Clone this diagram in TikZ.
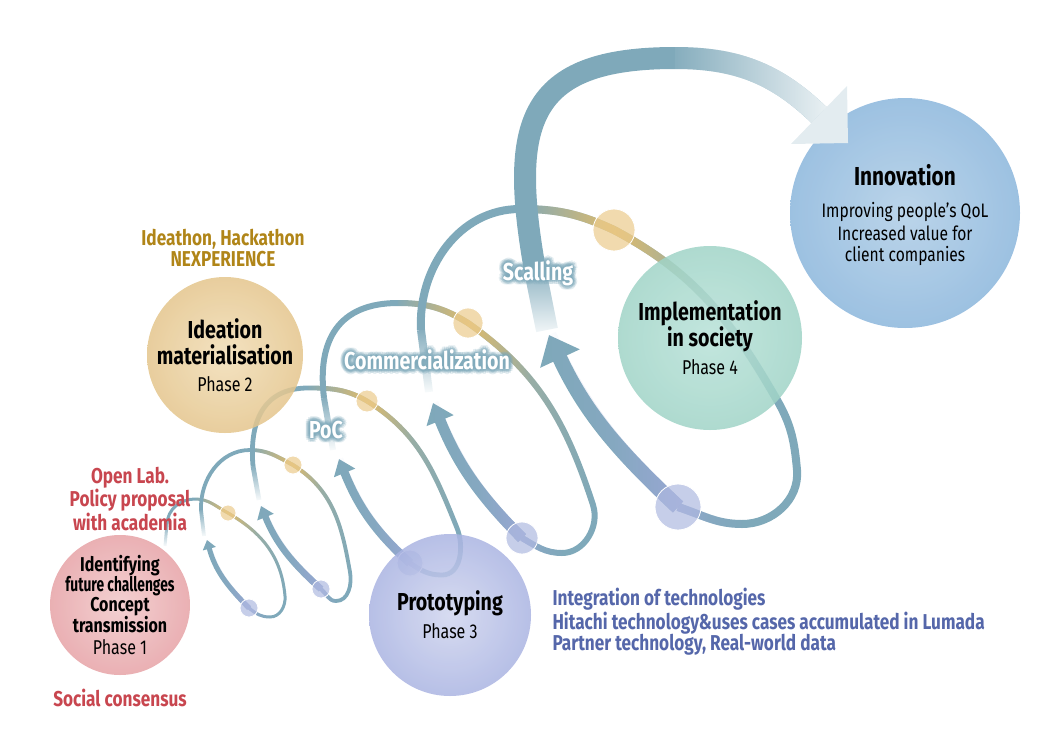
\documentclass[tikz,border=0pt]{standalone}
\usepackage{fontspec}
\usepackage{graphicx}
\setmainfont{Fira Sans}[FakeStretch=0.8]
\usetikzlibrary{arrows.meta,fadings}

\definecolor{coil}{HTML}{7FA9BA}
\definecolor{amberline}{HTML}{E3BC68}
\definecolor{amberdot}{HTML}{EBCB8C}
\definecolor{lilacline}{HTML}{9AA7D5}
\definecolor{lilacdot}{HTML}{AEB9E0}
\definecolor{labelred}{HTML}{C8464F}
\definecolor{labelgold}{HTML}{B08518}
\definecolor{labelblue}{HTML}{5567AA}
\definecolor{pinkin}{HTML}{F1C8C9}
\definecolor{pinkout}{HTML}{E6A2A6}
\definecolor{goldin}{HTML}{F1DDB6}
\definecolor{goldout}{HTML}{E4C58C}
\definecolor{lavin}{HTML}{D0D5EE}
\definecolor{lavout}{HTML}{AAB4E2}
\definecolor{mintin}{HTML}{B8E1D8}
\definecolor{mintout}{HTML}{A0D4C7}
\definecolor{skyin}{HTML}{AFCDE6}
\definecolor{skyout}{HTML}{8BB6DC}

\tikzfading[name=fadeup, top color=transparent!0, bottom color=transparent!100]
\tikzfading[name=fadeinright, left color=transparent!100, right color=transparent!0]
\tikzfading[name=fadeoutright, left color=transparent!0, right color=transparent!100, middle color=transparent!75]
\tikzfading[name=fadeoutleft, left color=transparent!100, right color=transparent!0, middle color=transparent!75]
\tikzfading[name=paleend, left color=transparent!100, right color=transparent!15]

\newcommand\phasefont{\mdseries\fontsize{20}{22}\selectfont}

\tikzset{
  phase/.style={circle, minimum size=#1, fill opacity=.85},
  phasetext/.style={align=center, text=black, font=\bfseries\fontsize{20}{20}\selectfont},
  bigtext/.style={align=center, text=black, font=\bfseries\fontsize{24.5}{26}\selectfont},
  sidelabel/.style={align=center, font=\bfseries\fontsize{21.5}{21.5}\selectfont},
  stageglow/.style={text=coil, text opacity=.2, font=\bfseries\fontsize{24.5}{26}\selectfont},
  stagetext/.style={text=white, font=\bfseries\fontsize{24.5}{26}\selectfont},
  dot/.style={draw=white, line width=.8pt, fill opacity=.7}
}

\newcommand\stagelabel[3]{%
  \foreach \ang in {0,30,...,330}{%
    \node[stageglow] at ([shift={(\ang:1.5pt)}]#2) {#3};
    \node[stageglow] at ([shift={(\ang:3pt)}]#2) {#3};
    \node[stageglow] at ([shift={(\ang:4.5pt)}]#2) {#3};
  }
  \node[stagetext] (#1) at (#2) {#3};
}

\begin{document}
\begin{tikzpicture}[x=1pt,y=1pt,yscale=-1]
\useasboundingbox (0,0) rectangle (1060,750);

% goal circle, under the big arrow
\node[phase=230pt, inner color=skyin, outer color=skyout] (innovation) at (905,213) {};

% loop 1
\draw[coil, line width=3pt, path fading=fadeup] (165,546) -- (167,524);
\draw[coil, line width=3pt] (167,524) to[out=-88,in=180] (195,499) to[out=0,in=-152] (228,513)
    to[out=30,in=-95] (285,596) to[out=85,in=0] (270,617) to[out=180,in=40] (249,608);
\draw[amberline, line width=3pt, path fading=fadeinright] (195,499) to[out=0,in=-152] (228,513);
\draw[amberline, line width=3pt, path fading=fadeoutright] (228,513) to[out=30,in=-95] (285,596);
\draw[lilacline, line width=3pt, path fading=fadeoutright] (270,617) to[out=180,in=40] (249,608);
\draw[coil, line width=5pt, -{Triangle[length=9pt,width=13pt]}] (249,608) to[out=-135,in=75] (207,540);
\draw[lilacline, line width=5pt, path fading=fadeoutleft] (249,608) to[out=-135,in=75] (207,540);
\filldraw[dot, fill=amberdot] (228,513) circle (8);
\filldraw[dot, fill=lilacdot] (249,608) circle (9);

% loop 2
\draw[coil, line width=3.8pt, path fading=fadeup] (204,536) -- (201,510);
\draw[coil, line width=3.8pt] (201,510) to[out=-92,in=180] (250,450) to[out=0,in=-152] (293,465)
    to[out=32,in=-100] (350,572) to[out=80,in=0] (336,601) to[out=180,in=40] (321,589);
\draw[amberline, line width=3.8pt, path fading=fadeinright] (250,450) to[out=0,in=-152] (293,465);
\draw[amberline, line width=3.8pt, path fading=fadeoutright] (293,465) to[out=32,in=-100] (350,572);
\draw[lilacline, line width=3.8pt, path fading=fadeoutright] (336,601) to[out=180,in=40] (321,589);
\draw[coil, line width=6.5pt, -{Triangle[length=12pt,width=17pt]}] (321,589) to[out=-138,in=68] (261,506);
\draw[lilacline, line width=6.5pt, path fading=fadeoutleft] (321,589) to[out=-138,in=68] (261,506);
\filldraw[dot, fill=amberdot] (293,465) circle (9);
\filldraw[dot, fill=lilacdot] (321,589) circle (9);

% loop 3
\draw[coil, line width=4.8pt, path fading=fadeup] (259,500) -- (253,466);
\draw[coil, line width=4.8pt] (253,466) to[out=-95,in=180,looseness=1.2] (308,388) to[out=0,in=-150] (367,401)
    to[out=32,in=-112] (457,528) to[out=68,in=0] (442,575) to[out=180,in=35] (410,563);
\draw[amberline, line width=4.8pt, path fading=fadeinright] (308,388) to[out=0,in=-150] (367,401);
\draw[amberline, line width=4.8pt, path fading=fadeoutright] (367,401) to[out=32,in=-112] (457,528);
\draw[lilacline, line width=4.8pt, path fading=fadeoutright] (442,575) to[out=180,in=35] (410,563);
\draw[coil, line width=8.5pt, -{Triangle[length=15pt,width=22pt]}] (410,563) to[out=-138,in=68] (339,459);
\draw[lilacline, line width=8.5pt, path fading=fadeoutleft] (410,563) to[out=-138,in=68] (339,459);
\filldraw[dot, fill=amberdot] (367,401) circle (11);
\filldraw[dot, fill=lilacdot] (410,563) circle (13);

% loop 4
\draw[coil, line width=6pt, path fading=fadeup] (333,450) -- (324,398);
\draw[coil, line width=6pt] (324,398) to[out=-97,in=180,looseness=1.25] (398,303) to[out=0,in=-148] (468,323)
    to[out=35,in=-108] (593,505) to[out=72,in=0] (562,553) to[out=180,in=30] (522,538);
\draw[amberline, line width=6pt, path fading=fadeinright] (398,303) to[out=0,in=-148] (468,323);
\draw[amberline, line width=6pt, path fading=fadeoutright] (468,323) to[out=35,in=-108] (593,505);
\draw[lilacline, line width=6pt, path fading=fadeoutright] (562,553) to[out=180,in=30] (522,538);
\draw[coil, line width=11pt, -{Triangle[length=19pt,width=28pt]}] (522,538) to[out=-135,in=68] (433,403);
\draw[lilacline, line width=11pt, path fading=fadeoutleft] (522,538) to[out=-135,in=68] (433,403);
\filldraw[dot, fill=amberdot] (468,323) circle (15);
\filldraw[dot, fill=lilacdot] (522,538) circle (16);

% loop 5
\draw[coil, line width=8pt, path fading=fadeup] (429,392) -- (421,330);
\draw[coil, line width=8pt] (421,330) to[out=-93,in=180] (520,209) to[out=0,in=-155] (614,230)
    to[out=28,in=-120] (777,400) to[out=60,in=-95] (797,470) to[out=85,in=0] (742,524) to[out=180,in=18] (678,507);
\draw[amberline, line width=8pt, path fading=fadeinright] (520,209) to[out=0,in=-155] (614,230);
\draw[amberline, line width=8pt, path fading=fadeoutright] (614,230) to[out=28,in=-120] (777,400);
\draw[lilacline, line width=8pt, path fading=fadeoutright] (742,524) to[out=180,in=18] (678,507);
\draw[coil, line width=15pt, -{Triangle[length=26pt,width=42pt]}] (678,507) to[out=-137,in=65] (549,335);
\draw[lilacline, line width=15pt, path fading=fadeoutleft] (678,507) to[out=-137,in=65] (549,335);
\filldraw[dot, fill=amberdot] (614,230) circle (21);
\filldraw[dot, fill=lilacdot] (678,507) circle (23);

% big arrow to innovation
\draw[coil, line width=22pt, path fading=fadeup] (547,330) -- (535,270);
\draw[coil, line width=22pt] (535,270) to[out=-100,in=180,looseness=1.5] (675,58)
    to[out=0,in=-136] (819,115);
\draw[white, line width=22pt, path fading=paleend] (675,58) to[out=0,in=-136] (819,115);
\fill[coil!22!white] (847,86) -- (848,143) -- (791,144) -- cycle;

% phase circles
\node[phase=140pt, inner color=pinkin, outer color=pinkout] (phase1) at (120,605) {};
\node[phase=156pt, inner color=goldin, outer color=goldout] (phase2) at (225,355) {};
\node[phase=162pt, inner color=lavin, outer color=lavout] (phase3) at (450,615) {};
\node[phase=184pt, inner color=mintin, outer color=mintout] (phase4) at (710,338) {};

\node[phasetext] (phase1text) at (phase1) {Identifying\\\scalebox{0.86}[1]{future challenges}\\Concept\\transmission\\[2pt]{\phasefont Phase 1}};
\node[bigtext] (phase2text) at (phase2) {Ideation\\materialisation\\[1pt]{\phasefont Phase 2}};
\node[bigtext] (phase3text) at (phase3) {Prototyping\\[2pt]{\phasefont Phase 3}};
\node[bigtext] (phase4text) at (phase4) {Implementation\\in society\\[2pt]{\phasefont Phase 4}};
\node[align=center, font=\fontsize{19.5}{21.5}\selectfont] (innovtext) at ([yshift=2pt]innovation)
  {{\bfseries\fontsize{26}{28}\selectfont Innovation}\\[11pt]Improving people's QoL\\[1pt]Increased value for\\client companies};

% side notes
\node[sidelabel, text=labelred] (openlab) at (130,499) {Open Lab.\\Policy proposal\\with academia};
\node[sidelabel, text=labelred] (consensus) at (120,698) {Social consensus};
\node[sidelabel, text=labelgold] (ideathon) at (223,248) {Ideathon, Hackathon\\NEXPERIENCE};
\node[sidelabel, text=labelblue, align=left, anchor=west] (integration) at (549,622)
  {Integration of technologies\\Hitachi technology\&uses cases accumulated in Lumada\\Partner technology, Real-world data};

% stage names on the coil
\stagelabel{poc}{326,430}{PoC}
\stagelabel{commercial}{427,360}{Commercialization}
\stagelabel{scaling}{538,273}{Scalling}
\end{tikzpicture}
\end{document}
